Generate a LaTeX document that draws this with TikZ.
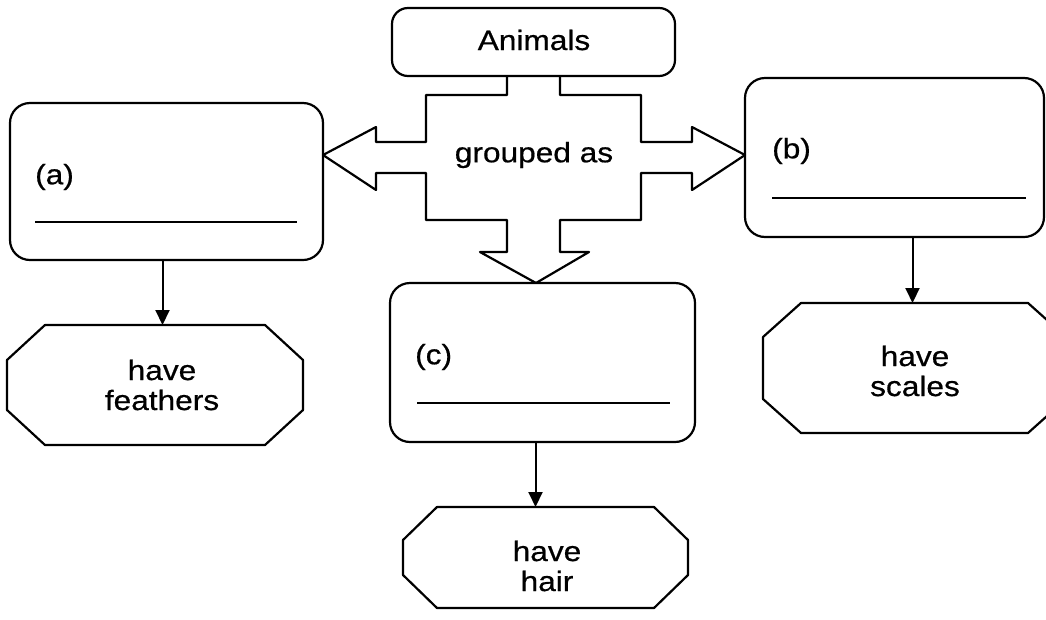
\documentclass[tikz,border=0pt]{standalone}
\usepackage{fontspec}
\setmainfont{Liberation Sans}[FakeStretch=1.13,FakeBold=0.6]
\usetikzlibrary{arrows.meta,calc}
\tikzset{
  ln/.style={line width=2.2pt, line join=round},
  rbox/.style={ln, draw, rounded corners=20pt, inner sep=0pt, outer sep=0pt},
  octo/.style={inner sep=0pt, outer sep=0pt},
  txt/.style={inner sep=0pt, align=center, font=\fontsize{28}{30}\selectfont},
  arr/.style={line width=2pt, -{Triangle[length=15pt,width=14pt]}},
  lbl/.style={anchor=west, inner sep=0pt, font=\fontsize{28}{30}\selectfont},
  wline/.style={line width=1.5pt}
}
\newcommand\octagonpath[3]{% name, chamfer x, chamfer y
  \draw[ln] ($(#1.north west)+(#2,0)$) -- ($(#1.north east)+(-#2,0)$)
    -- ($(#1.north east)+(0,#3)$) -- ($(#1.south east)+(0,-#3)$)
    -- ($(#1.south east)+(-#2,0)$) -- ($(#1.south west)+(#2,0)$)
    -- ($(#1.south west)+(0,-#3)$) -- ($(#1.north west)+(0,#3)$) -- cycle;}
\begin{document}
\begin{tikzpicture}[x=1pt,y=-1pt]
\clip (0,0) rectangle (1046,619);
\fill[white] (0,0) rectangle (1046,619);

% Animals box
\node[rbox, minimum width=283pt, minimum height=68pt, rounded corners=16pt] (an) at (533.5,42) {};
\node[txt] (ant) at (534,40) {Animals};

% big cross arrow
\draw[ln] (507,76) -- (507,95) -- (426,95) -- (426,142) -- (376,142) -- (376,127)
  -- (323,155) -- (376,190) -- (376,173) -- (426,173) -- (426,220) -- (507,220)
  -- (507,252) -- (480,252) -- (536,283) -- (589,252) -- (560,252) -- (560,220)
  -- (641,220) -- (641,173) -- (692,173) -- (692,190) -- (745,155) -- (692,127)
  -- (692,142) -- (641,142) -- (641,95) -- (560,95) -- (560,76);
\node[txt] (gr) at (534,155) {grouped as};

% group boxes
\node[rbox, minimum width=313pt, minimum height=157pt] (a) at (166.5,181.5) {};
\node[rbox, minimum width=299pt, minimum height=159pt] (b) at (894.5,157.5) {};
\node[rbox, minimum width=305pt, minimum height=159pt] (c) at (542.5,362.5) {};

\node[lbl] (la) at (35,177) {(a)};
\node[lbl] (lb) at (772,151) {(b)};
\node[lbl] (lc) at (415,357) {(c)};
\draw[wline] (35,222) -- (297,222);
\draw[wline] (772,198) -- (1026,198);
\draw[wline] (417,403) -- (670,403);

% octagons
\node[octo, minimum width=296pt, minimum height=120pt] (fe) at (155,385) {};
\node[octo, minimum width=303pt, minimum height=130pt] (sc) at (914.5,368) {};
\node[octo, minimum width=285pt, minimum height=101pt] (ha) at (545.5,557.5) {};
\octagonpath{fe}{38}{35}
\octagonpath{sc}{38}{34}
\octagonpath{ha}{34}{33}
\node[txt] (fet) at (162,385) {have\\feathers};
\node[txt] (sct) at (915,371) {have\\scales};
\node[txt] (hat) at (547,566) {have\\hair};

% connectors
\draw[arr] ([xshift=-4pt]a.south) -- ([xshift=-4pt]a.south |- fe.north);
\draw[arr] ([xshift=18pt]b.south) -- ([xshift=18pt]b.south |- sc.north);
\draw[arr] ([xshift=-7pt]c.south) -- ([xshift=-7pt]c.south |- ha.north);
\end{tikzpicture}
\end{document}
